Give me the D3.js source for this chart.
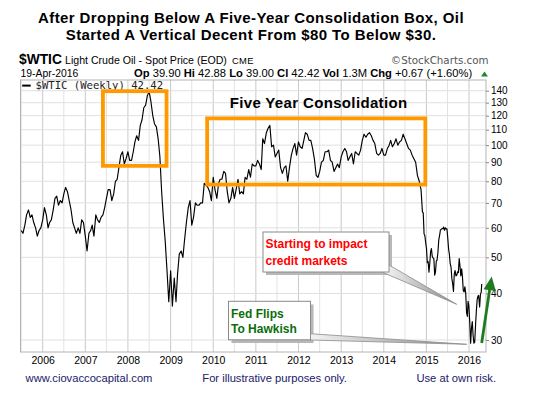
<!DOCTYPE html>
<html><head><meta charset="utf-8">
<script src="https://cdn.jsdelivr.net/npm/d3@7"></script>
<style>
body{margin:0;background:#fff}
svg{display:block}
text{font-family:"Liberation Sans",Arial,Helvetica,sans-serif}
</style>
</head><body>
<svg id="c" width="533" height="396"></svg>
<script>
// ---------------- DATA ----------------
const titleLines = ["After Dropping Below A Five-Year Consolidation Box, Oil",
                    "Started A Vertical Decent From $80 To Below $30."];
// semi-monthly closes (1st and 16th of each month), starting July 2005
const semiMonthlyStart = "2005-07-01";
const close2005 = [59,58, 61,65, 67,64, 65,62, 60,57, 59,60];
const close2006 = [63,68, 65,60, 62,63, 67,72, 73,69, 71,70, 74,77, 75,71, 67,62, 60,58, 60,58, 63,62];
const close2007 = [57,52, 58,59, 61,57, 65,63, 62,64, 65,68, 72,76, 76,71, 74,80, 81,87, 94,96, 89,92];
const close2008 = [96,91, 91,96, 102,106, 103,113, 117,126, 128,136, 139,131, 120,114, 112,104, 93,75, 63,55, 46,38];
const close2009 = [46,37, 44,38, 45,51, 52,50, 56,62, 68,71, 61,64, 70,69, 69,70, 70,79, 78,77, 75,71];
const close2010 = [82,76, 72,79, 81,81, 85,84, 75,70, 72,77, 72,76, 81,74, 75,74, 82,81, 86,82, 89,88];
const close2011 = [88,91, 89,86, 104,101, 108,111, 113,99, 100,93, 95,97, 87,84, 87,88, 80,87, 94,98, 101,94];
const close2012 = [102,99, 98,103, 108,107, 103,103, 98,92, 83,82, 85,90, 91,96, 96,97, 91,90, 85,87, 89,87];
const close2013 = [93,96, 98,96, 91,93, 95,89, 96,95, 94,97, 103,107, 105,107, 108,106, 103,101, 95,94, 95,98];
const close2014 = [94,94, 98,100, 103,99, 101,104, 100,102, 103,107, 104,101, 98,97, 94,92, 90,83, 80,76];
// weekly closes for the final collapse
const weeklyDates = ["2014-11-28","2014-12-05","2014-12-12","2014-12-19","2014-12-26",
 "2015-01-02","2015-01-09","2015-01-16","2015-01-23","2015-01-30",
 "2015-02-06","2015-02-13","2015-02-20","2015-02-27",
 "2015-03-06","2015-03-13","2015-03-20","2015-03-27",
 "2015-04-02","2015-04-10","2015-04-17","2015-04-24",
 "2015-05-01","2015-05-08","2015-05-15","2015-05-22","2015-05-29",
 "2015-06-05","2015-06-12","2015-06-19","2015-06-26",
 "2015-07-02","2015-07-10","2015-07-17","2015-07-24","2015-07-31",
 "2015-08-07","2015-08-14","2015-08-21","2015-08-28",
 "2015-09-04","2015-09-11","2015-09-18","2015-09-25",
 "2015-10-02","2015-10-09","2015-10-16","2015-10-23","2015-10-30",
 "2015-11-06","2015-11-13","2015-11-20","2015-11-27",
 "2015-12-04","2015-12-11","2015-12-18","2015-12-24","2015-12-31",
 "2016-01-08","2016-01-15","2016-01-22","2016-01-29",
 "2016-02-05","2016-02-12","2016-02-19","2016-02-26",
 "2016-03-04","2016-03-11","2016-03-18","2016-03-24",
 "2016-04-01","2016-04-08","2016-04-15","2016-04-19"];
const weeklyCloses = [66.2,65.8,57.8,57.1,54.7,
 52.7,48.4,48.7,45.6,48.2,
 51.7,52.8,50.3,49.8,
 49.6,44.8,45.7,48.9,
 49.1,51.6,55.7,57.2,
 59.2,59.4,59.7,59.7,60.3,
 59.1,60.0,59.6,59.6,
 56.9,52.7,50.9,48.1,47.1,
 43.9,42.5,40.5,45.2,
 46.1,44.6,44.7,45.7,
 45.5,49.6,47.3,44.6,46.6,
 44.3,40.7,40.4,41.7,
 40.0,35.6,34.7,38.1,37.0,
 33.2,29.4,32.2,33.6,
 30.9,29.4,29.6,32.8,
 35.9,38.5,39.4,39.5,
 36.8,39.7,40.4,42.42];
const xTickYears = [2006,2007,2008,2009,2010,2011,2012,2013,2014,2015,2016];
const yTicks = [30,40,50,60,70,80,90,100,110,120,130,140];
// highlighted ranges (date span, price span)
const highlightBoxes = [
  {from:"2007-06-01", to:"2008-11-27", lo:88.0, hi:139.6},
  {from:"2009-11-10", to:"2014-12-23", lo:78.4, hi:118.0}
];

// ---------------- BUILD ----------------
const parse = d3.timeParse("%Y-%m-%d");
const semi = [].concat(close2005,close2006,close2007,close2008,close2009,close2010,close2011,close2012,close2013,close2014);
const s0 = parse(semiMonthlyStart);
const data = semi.map((v,i)=>({date:new Date(s0.getFullYear(), s0.getMonth()+Math.floor(i/2), i%2?16:1), value:v}));
weeklyDates.forEach((d,i)=>data.push({date:parse(d), value:weeklyCloses[i]}));

const L=20.5, R=486, T=80, B=352;
const svg = d3.select("#c");
const x = d3.scaleTime().domain([new Date(2006,0,1), new Date(2016,0,1)]).range([42.7, 469]);
const y = d3.scaleLog().domain([30,140]).range([340, 90.7]);

// title
svg.selectAll("text.title").data(titleLines).join("text")
  .attr("x",251).attr("y",(d,i)=>23.2+i*17.1)
  .attr("text-anchor","middle").attr("font-size",15).attr("font-weight","bold")
  .attr("letter-spacing",0.4).attr("fill","#000").text(d=>d);

// header
svg.append("text").attr("x",19).attr("y",64).attr("font-size",13.8).attr("font-weight","bold").text("$WTIC");
svg.append("text").attr("x",65).attr("y",64).attr("font-size",10.6).text("Light Crude Oil - Spot Price (EOD)");
svg.append("text").attr("x",232).attr("y",64).attr("font-size",9.4).attr("letter-spacing",0.3).text("CME");
svg.append("text").attr("x",488.6).attr("y",64).attr("text-anchor","end")
  .style("font-family","'DejaVu Sans',Verdana,sans-serif").attr("font-size",10.3).attr("fill","#555").text("\u00a9StockCharts.com");
svg.append("text").attr("x",20.5).attr("y",76.6).attr("font-size",10.4).text("19-Apr-2016");
const ohlc = [["Op","39.90"],["Hi","42.88"],["Lo","39.00"],["Cl","42.42"],["Vol","1.3M"],["Chg","+0.67 (+1.60%)"]];
const hdr = svg.append("text").attr("x",134).attr("y",76.6).attr("font-size",11.2);
ohlc.forEach(([k,v],i)=>{
  hdr.append("tspan").attr("font-weight","bold").text((i?" ":"")+k);
  hdr.append("tspan").text(" "+v);
});
svg.append("path").attr("d","M481,76.5 L484.5,71.5 L488,76.5 Z").attr("fill","#1f8a2a");

// grid
const halfYears = d3.timeMonth.every(6).range(new Date(2005,6,1), new Date(2016,1,1));
svg.append("g").selectAll("line").data(halfYears).join("line")
  .attr("x1",d=>x(d)).attr("x2",d=>x(d)).attr("y1",T).attr("y2",B)
  .attr("stroke",d=>d.getMonth()===0?"#c9c9c9":"#e2e2e2").attr("stroke-width",1);
svg.append("g").selectAll("line").data(yTicks).join("line")
  .attr("x1",L).attr("x2",R).attr("y1",d=>y(d)).attr("y2",d=>y(d))
  .attr("stroke","#e0e0e0").attr("stroke-width",1);

// frame
svg.append("rect").attr("x",L).attr("y",T).attr("width",R-L).attr("height",B-T)
  .attr("fill","none").attr("stroke","#b4b4b4").attr("stroke-width",1);

// legend
svg.append("line").attr("x1",22.2).attr("x2",30.7).attr("y1",85.6).attr("y2",85.6).attr("stroke","#000").attr("stroke-width",2);
svg.append("text").attr("x",35.5).attr("y",89.3).style("font-family","'DejaVu Sans Mono','Liberation Mono',monospace")
  .attr("font-size",10.6).attr("fill","#222").text("$WTIC (Weekly) 42.42");

// axes
const yAxis = d3.axisRight(y).tickValues(yTicks).tickFormat(d3.format("d")).tickSize(3).tickPadding(2);
const gy = svg.append("g").attr("transform",`translate(${R},0)`).call(yAxis);
gy.select(".domain").remove();
gy.selectAll("line").attr("stroke","#888");
gy.selectAll("text").attr("font-size",10).attr("fill","#000").style("font-family","'Liberation Sans',Arial,sans-serif");

const xAxis = d3.axisBottom(x).tickValues(xTickYears.map(v=>new Date(v,0,1))).tickFormat(d3.timeFormat("%Y")).tickSize(0).tickPadding(4.5);
const gx = svg.append("g").attr("transform",`translate(0,${B})`).call(xAxis);
gx.select(".domain").remove();
gx.selectAll("text").attr("font-size",10.5).attr("fill","#000").style("font-family","'Liberation Sans',Arial,sans-serif");

// price line
svg.append("clipPath").attr("id","clip").append("rect").attr("x",L).attr("y",T).attr("width",R-L).attr("height",B-T);
svg.append("path").datum(data).attr("clip-path","url(#clip)")
  .attr("d",d3.line().x(d=>x(d.date)).y(d=>y(d.value)))
  .attr("fill","none").attr("stroke","#000").attr("stroke-width",1.15).attr("stroke-linejoin","round");

// orange highlight boxes
svg.append("g").selectAll("rect").data(highlightBoxes).join("rect")
  .attr("x",d=>x(parse(d.from))).attr("y",d=>y(d.hi))
  .attr("width",d=>x(parse(d.to))-x(parse(d.from))).attr("height",d=>y(d.lo)-y(d.hi))
  .attr("fill","none").attr("stroke","#ff9900").attr("stroke-width",3.8);

svg.append("text").attr("x",318.6).attr("y",108.3).attr("text-anchor","middle")
  .attr("font-size",15).attr("font-weight","bold").attr("letter-spacing",0.35).text("Five Year Consolidation");

// callouts
const defs = svg.append("defs");
function grad(id,x1,x2){
  const g = defs.append("linearGradient").attr("id",id).attr("gradientUnits","userSpaceOnUse")
    .attr("x1",x1).attr("x2",x2).attr("y1",0).attr("y2",0);
  g.append("stop").attr("offset",0).attr("stop-color","#f2f2f2");
  g.append("stop").attr("offset",1).attr("stop-color","#8a8a8a");
}
grad("g1",386,457); grad("g2",310,467);
// red callout
svg.append("rect").attr("x",266).attr("y",235).attr("width",126).attr("height",40).attr("fill","#b8b8b8");
svg.append("path").attr("d","M389,265 L383,272.5 L456.7,304.3 Z").attr("fill","url(#g1)").attr("stroke","#8c8c8c").attr("stroke-width",0.8);
svg.append("rect").attr("x",263).attr("y",232).attr("width",126).attr("height",40).attr("fill","#fff").attr("stroke","#8a8a8a").attr("stroke-width",1);
svg.append("text").attr("x",265.5).attr("y",248).attr("font-size",12).attr("font-weight","bold").attr("fill","#ff0000").text("Starting to impact");
svg.append("text").attr("x",265.5).attr("y",265).attr("font-size",12).attr("font-weight","bold").attr("fill","#ff0000").text("credit markets");
// fed callout
svg.append("rect").attr("x",231.5).attr("y",304.5).attr("width",82).attr("height",38.5).attr("fill","#b8b8b8");
svg.append("path").attr("d","M310.3,333.7 L310.3,340 L466.7,344.3 Z").attr("fill","url(#g2)").attr("stroke","#8c8c8c").attr("stroke-width",0.8);
svg.append("rect").attr("x",228.5).attr("y",301.3).attr("width",82).attr("height",38.5).attr("fill","#fff").attr("stroke","#8a8a8a").attr("stroke-width",1);
svg.append("text").attr("x",231).attr("y",317.7).attr("font-size",12).attr("font-weight","bold").attr("fill","#0a6e0a").text("Fed Flips");
svg.append("text").attr("x",231).attr("y",333).attr("font-size",12).attr("font-weight","bold").attr("fill","#0a6e0a").text("To Hawkish");

// green arrow
svg.append("line").attr("x1",481.7).attr("y1",343).attr("x2",489.6).attr("y2",290).attr("stroke","#1e7b1e").attr("stroke-width",2.8);
svg.append("path").attr("d","M491.7,276.5 L483.6,289.3 L495.8,291 Z").attr("fill","#1e7b1e");

// footer
const foot = [["www.ciovaccocapital.com",25.6,"start"],["For illustrative purposes only.",202.3,"start"],["Use at own risk.",496,"end"]];
svg.selectAll("text.foot").data(foot).join("text").attr("class","foot")
  .attr("x",d=>d[1]).attr("y",382).attr("text-anchor",d=>d[2]).attr("font-size",11.2).attr("fill","#20206a").text(d=>d[0]);
</script>
</body></html>
